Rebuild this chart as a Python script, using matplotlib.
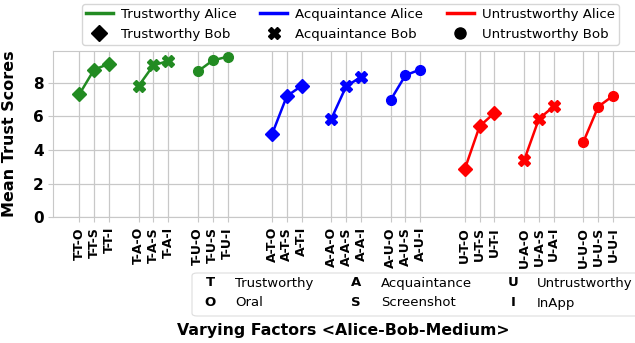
import matplotlib
matplotlib.use("Agg")
import matplotlib.pyplot as plt
from matplotlib.lines import Line2D
from matplotlib.patches import FancyBboxPatch

# factor levels: Alice trust, Bob trust, medium
alice_levels = ["T", "A", "U"]
bob_levels = ["T", "A", "U"]
mediums = ["O", "S", "I"]

# mean trust scores, one list per Alice-Bob pair (O, S, I)
scores_T = [[7.30, 8.77, 9.12], [7.80, 9.03, 9.29], [8.67, 9.32, 9.54]]
scores_A = [[4.93, 7.20, 7.81], [5.85, 7.78, 8.34], [6.97, 8.44, 8.78]]
scores_U = [[2.86, 5.41, 6.20], [3.38, 5.85, 6.59], [4.48, 6.57, 7.22]]
scores = [scores_T, scores_A, scores_U]

alice_names = ["Trustworthy Alice", "Acquaintance Alice", "Untrustworthy Alice"]
bob_names = ["Trustworthy Bob", "Acquaintance Bob", "Untrustworthy Bob"]
colors = ["forestgreen", "blue", "red"]
markers = ["D", "X", "o"]
marker_sizes = [7, 8, 7]

# key for the letter codes
key_letters = ["T", "O", "A", "S", "U", "I"]
key_words = ["Trustworthy", "Oral", "Acquaintance", "Screenshot", "Untrustworthy", "InApp"]

fig = plt.figure(figsize=(6.35, 3.43), dpi=100)
ax = fig.add_axes([53.3 / 635, 125.7 / 343, 585.7 / 635, 166.3 / 343])

grey = "#c8c8c8"
ax.grid(True, color=grey, linewidth=0.9)
ax.set_axisbelow(True)
for s in ax.spines.values():
    s.set_color(grey)

tick_pos = []
tick_lab = []
for i, a in enumerate(alice_levels):
    for j, b in enumerate(bob_levels):
        xs = [13 * i + 4 * j + k for k in range(len(mediums))]
        ax.plot(xs, scores[i][j], color=colors[i], marker=markers[j],
                markersize=marker_sizes[j], linewidth=1.8)
        tick_pos += xs
        tick_lab += [f"{a}-{b}-{m}" for m in mediums]

ax.set_xticks(tick_pos)
ax.set_xticklabels(tick_lab, rotation=90, fontsize=9, fontweight="bold")
ax.set_yticks([0, 2, 4, 6, 8])
ax.set_yticklabels(["0", "2", "4", "6", "8"], fontsize=11, fontweight="bold")
ax.tick_params(color=grey, length=3.5)
ax.set_xlim(-1.75, 37.75)
ax.set_ylim(0, 9.88)
ax.set_ylabel("Mean Trust Scores", fontsize=11.5, fontweight="bold")
ax.yaxis.set_label_coords(-36.3 / 585.7, 0.5)

# top legend: Alice = line colour, Bob = marker shape
handles = []
for i in range(3):
    handles.append(Line2D([], [], color=colors[i], linewidth=2.5, label=alice_names[i]))
    handles.append(Line2D([], [], color="black", marker=markers[i], linestyle="none",
                          markersize=marker_sizes[i] + 1, label=bob_names[i]))
fig.legend(handles=handles, ncol=3, loc="upper left", fontsize=9.6,
           bbox_to_anchor=(82 / 635, 1 - 4 / 343), columnspacing=1.8,
           handletextpad=0.6, borderaxespad=0, borderpad=0.3)

# bottom key box for the letter codes
box = FancyBboxPatch((192 / 635, 1 - 316 / 343), 500 / 635, 43 / 343,
                     boxstyle="round,pad=0,rounding_size=0.008",
                     transform=fig.transFigure, facecolor="white",
                     edgecolor="#dddddd", linewidth=0.8)
fig.patches.append(box)
letter_x = [210, 356, 513]
word_x = [235, 381, 537]
row_y = [283, 303]
for n in range(6):
    col, row = n // 2, n % 2
    fig.text(letter_x[col] / 635, 1 - row_y[row] / 343, key_letters[n],
             fontsize=9.5, fontweight="bold", ha="center", va="center")
    fig.text(word_x[col] / 635, 1 - row_y[row] / 343, key_words[n],
             fontsize=9.5, ha="left", va="center")

fig.text(343 / 635, 1 - 330 / 343, "Varying Factors <Alice-Bob-Medium>",
         fontsize=11.3, fontweight="bold", ha="center", va="center")

fig.savefig("out.png", dpi=100)
